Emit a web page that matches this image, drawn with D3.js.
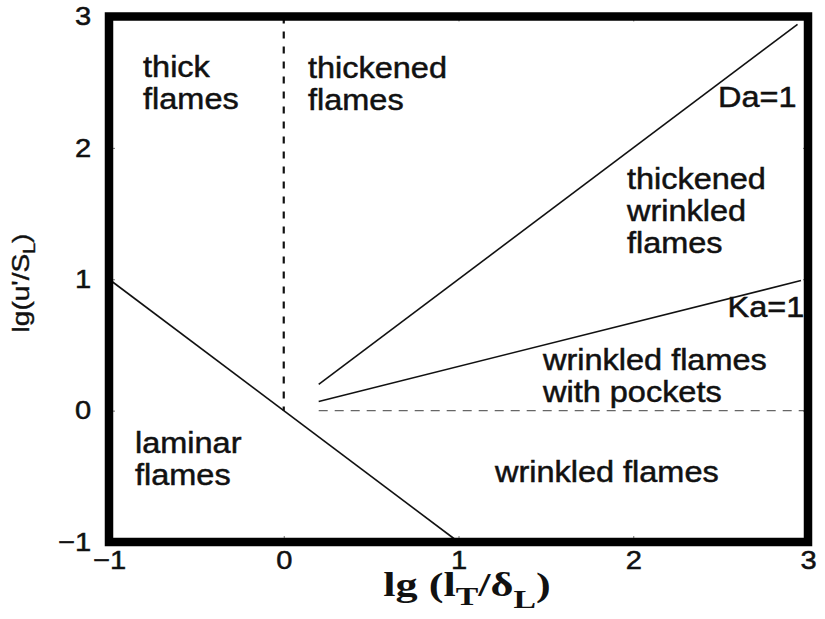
<!DOCTYPE html>
<html>
<head>
<meta charset="utf-8">
<script src="https://cdn.jsdelivr.net/npm/d3@7"></script>
<style>
  html, body { margin: 0; padding: 0; background: #fff; }
  svg { display: block; }
  .region { font-family: "Liberation Sans", Arial, Helvetica, sans-serif; font-size: 29px; fill: #111; stroke: #111; stroke-width: 0.5px; }
  .tick text { font-family: "Liberation Sans", Arial, Helvetica, sans-serif; font-size: 26px; fill: #111; stroke: #111; stroke-width: 0.5px; }
</style>
</head>
<body>
<svg id="chart" width="825" height="619"></svg>
<script>
// Borghi-type combustion regime diagram: lg(u'/S_L) against lg(l_T/delta_L)
const xTicks = [-1, 0, 1, 2, 3];
const yTicks = [-1, 0, 1, 2, 3];

// regime boundaries, in (lg lT/dL, lg u'/SL)
const laminarBoundary = [[-1, 1], [1, -1]];          // Re = 1
const daBoundary = [[0.2, 0.2], [2.94, 2.94]];       // Da = 1
const kaBoundary = [[0.2, 0.07], [2.96, 0.99]];      // Ka = 1
const thickBoundary = [[0, 3], [0, 0]];              // lT = dL
const pocketBoundary = [[0.2, 0], [3, 0]];           // u' = SL

// region names and line tags
const regionText = [
  ["thick", "flames"],
  ["thickened", "flames"],
  ["Da=1"],
  ["thickened", "wrinkled", "flames"],
  ["Ka=1"],
  ["wrinkled flames", "with pockets"],
  ["laminar", "flames"],
  ["wrinkled flames"]
];
const regionAt = [
  [-0.805, 2.54],
  [0.139, 2.53],
  [2.485, 2.31],
  [1.964, 1.69],
  [2.54, 0.71],
  [1.484, 0.31],
  [-0.851, -0.32],
  [1.209, -0.54]
];

const svg = d3.select("#chart");
const W = 825, H = 619;
const plot = { left: 109, right: 808, top: 16.5, bottom: 542 };

svg.append("rect").attr("width", W).attr("height", H).attr("fill", "#fff");

const x = d3.scaleLinear().domain([-1, 3]).range([plot.left, plot.right]);
const y = d3.scaleLinear().domain([-1, 3]).range([plot.bottom, plot.top]);

const line = d3.line().x(d => x(d[0])).y(d => y(d[1]));

// inward tick marks on all four sides
const tickStyle = g => {
  g.select(".domain").remove();
  g.selectAll(".tick line").attr("stroke", "#777").attr("stroke-width", 1);
};
svg.append("g").attr("transform", `translate(0,${plot.bottom})`)
  .call(d3.axisBottom(x).tickValues(xTicks).tickSize(-6).tickPadding(9).tickFormat(d3.format("d")))
  .call(tickStyle)
  .call(g => g.selectAll(".tick text").attr("dy", "0.71em").attr("transform", "scale(1.12,1)"));
svg.append("g").attr("transform", `translate(${plot.left},0)`)
  .call(d3.axisLeft(y).tickValues(yTicks).tickSize(-6).tickPadding(16).tickFormat(d3.format("d")))
  .call(tickStyle)
  .call(g => g.selectAll(".tick text").attr("transform", "scale(1.12,1)"));
svg.append("g").attr("transform", `translate(0,${plot.top})`)
  .call(d3.axisTop(x).tickValues(xTicks).tickSize(-5).tickFormat(""))
  .call(tickStyle);
svg.append("g").attr("transform", `translate(${plot.right},0)`)
  .call(d3.axisRight(y).tickValues(yTicks).tickSize(-5).tickFormat(""))
  .call(tickStyle);

// boundaries
svg.append("path").datum(laminarBoundary).attr("d", line)
  .attr("fill", "none").attr("stroke", "#111").attr("stroke-width", 1.6);
svg.append("path").datum(daBoundary).attr("d", line)
  .attr("fill", "none").attr("stroke", "#111").attr("stroke-width", 1.6);
svg.append("path").datum(kaBoundary).attr("d", line)
  .attr("fill", "none").attr("stroke", "#111").attr("stroke-width", 1.6);
svg.append("path").datum(thickBoundary).attr("d", line)
  .attr("fill", "none").attr("stroke", "#111").attr("stroke-width", 2.2)
  .attr("stroke-dasharray", "7,8");
svg.append("path").datum(pocketBoundary).attr("d", line)
  .attr("fill", "none").attr("stroke", "#666").attr("stroke-width", 1.3)
  .attr("stroke-dasharray", "9,7");

// frame
svg.append("rect")
  .attr("x", plot.left).attr("y", plot.top)
  .attr("width", plot.right - plot.left).attr("height", plot.bottom - plot.top)
  .attr("fill", "none").attr("stroke", "#000").attr("stroke-width", 8.5);

// region labels
regionText.forEach((lines, i) => {
  const [px, py] = regionAt[i];
  const t = svg.append("text").attr("class", "region")
    .attr("transform", `translate(${x(px)},${y(py)}) scale(1.12,1)`);
  lines.forEach((s, k) => t.append("tspan").attr("x", 0).attr("y", k * 32).text(s));
});

// axis titles
const yTitle = svg.append("text")
  .attr("transform", "translate(29,283) rotate(-90) scale(1.22,1)")
  .attr("text-anchor", "middle")
  .style("font-family", "'Liberation Sans', Arial, sans-serif")
  .style("font-size", "23px").attr("fill", "#111")
  .attr("stroke", "#111").attr("stroke-width", 0.4);
yTitle.append("tspan").text("lg(u'/S");
yTitle.append("tspan").attr("dy", 6).style("font-size", "16px").text("L");
yTitle.append("tspan").attr("dy", -6).text(")");

const xTitle = svg.append("text")
  .attr("transform", "translate(467,596) scale(1.3,1)")
  .attr("text-anchor", "middle")
  .style("font-family", "'Liberation Serif', 'Times New Roman', serif")
  .style("font-weight", "bold")
  .style("font-size", "34px").attr("fill", "#111");
xTitle.append("tspan").text("lg (l");
xTitle.append("tspan").attr("dy", 9).style("font-size", "26px").text("T");
xTitle.append("tspan").attr("dy", -9).text("/δ");
xTitle.append("tspan").attr("dy", 12).style("font-size", "26px").text("L");
xTitle.append("tspan").attr("dy", -12).text(")");
</script>
</body>
</html>
